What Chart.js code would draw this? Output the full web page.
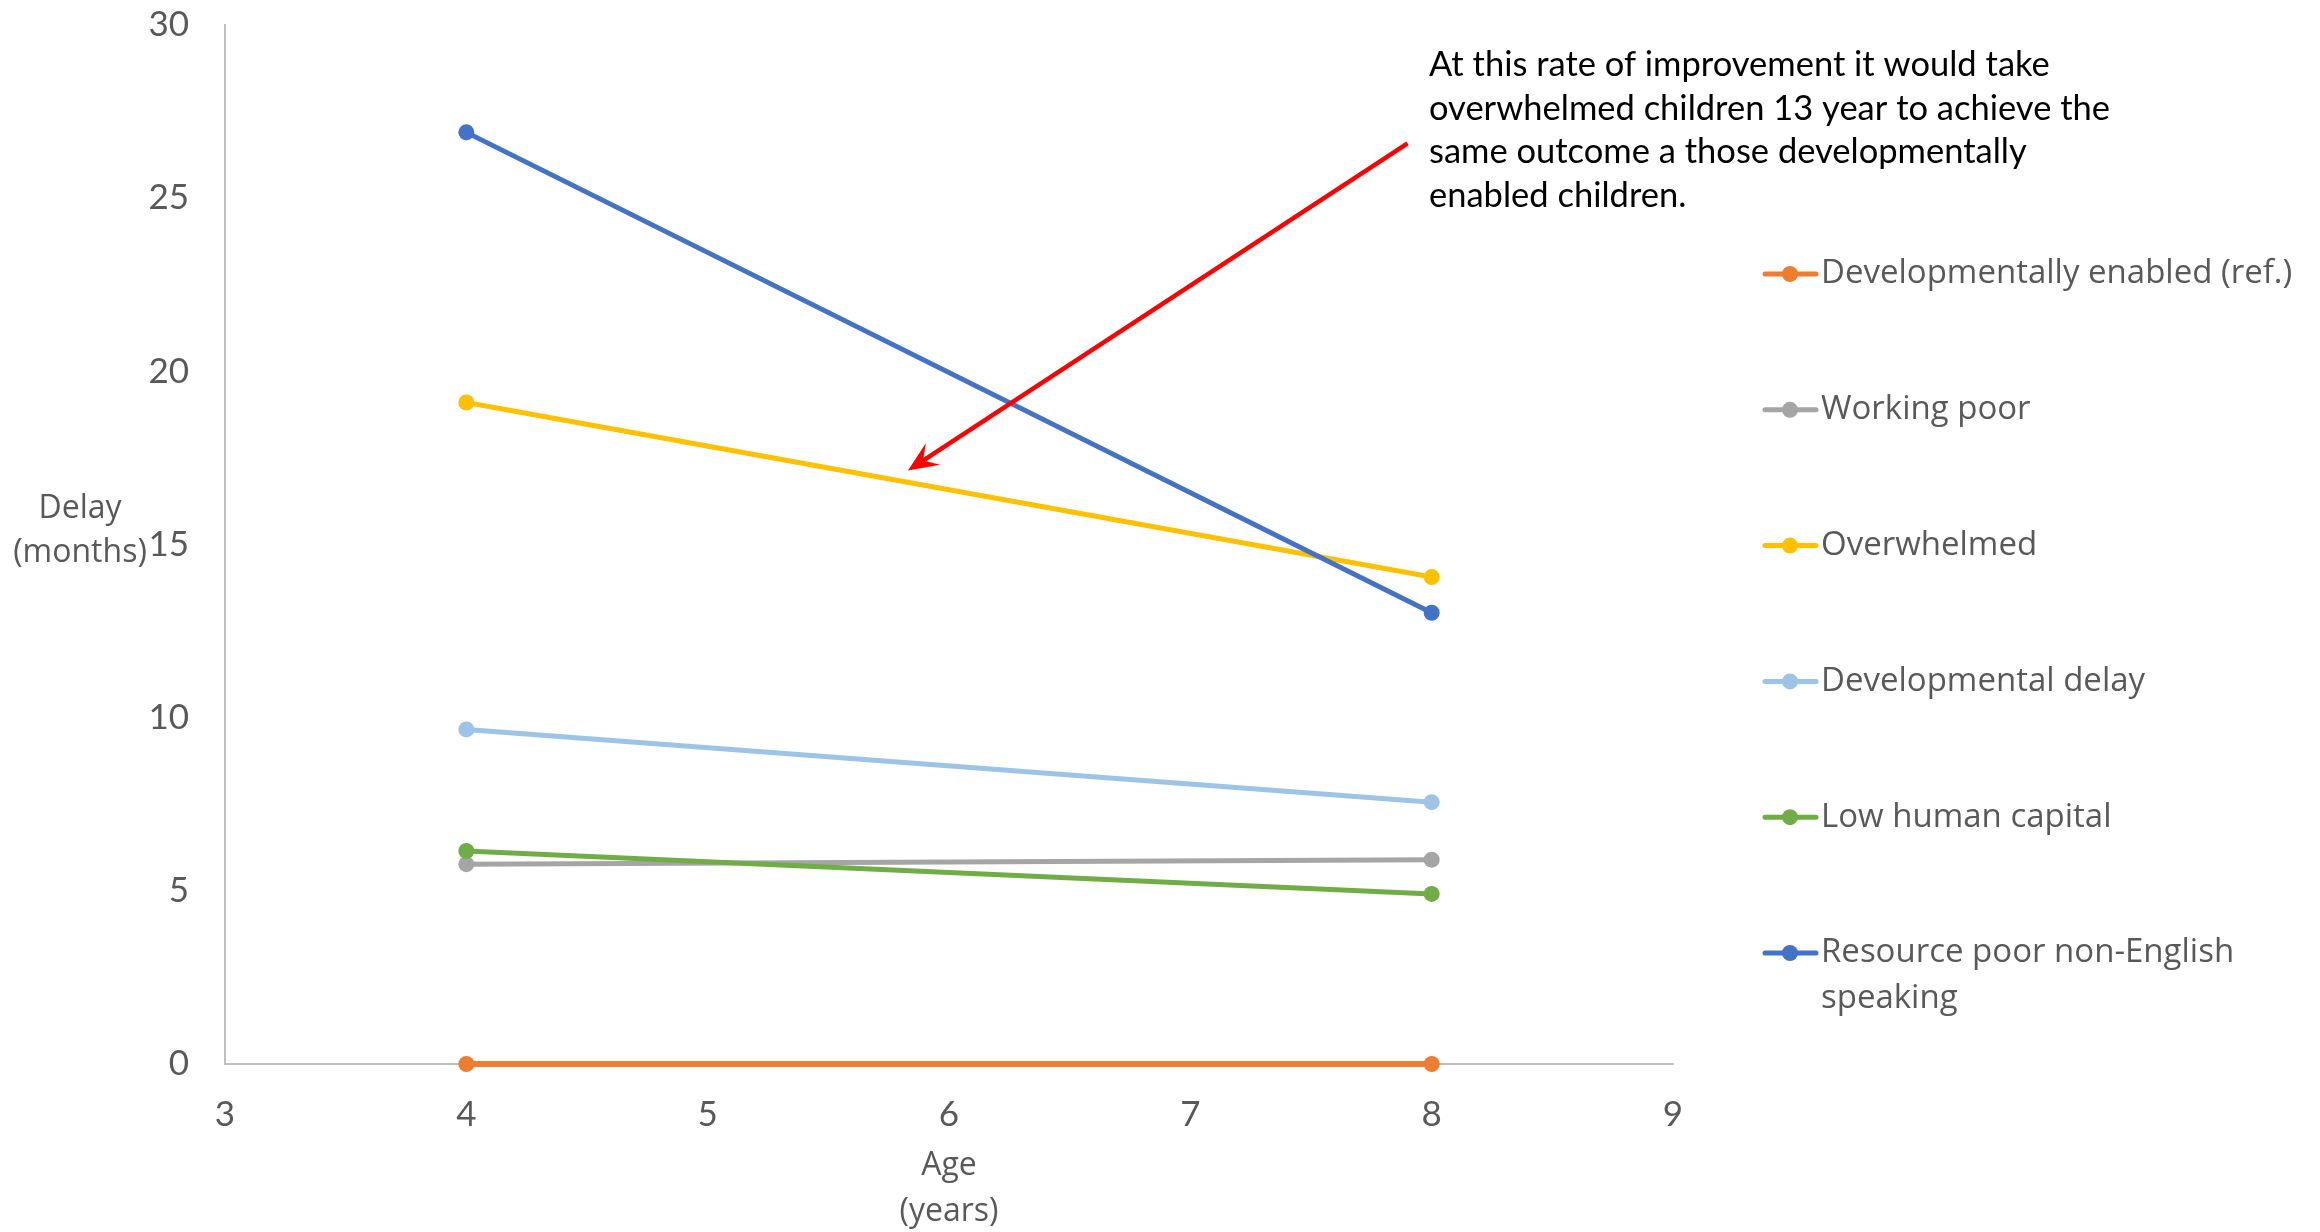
<!DOCTYPE html>
<html>
<head>
<meta charset="utf-8">
<script src="https://cdn.jsdelivr.net/npm/chart.js@4"></script>
<style>
  html, body { margin: 0; padding: 0; background: #fff; }
  #wrap { width: 2320px; height: 1232px; }
</style>
</head>
<body>
<div id="wrap"><canvas id="delayChart"></canvas></div>
<script>
// Age points (years)
const ages = [4, 8];

// Delay in months per group
const seriesNames = [
	'Developmentally enabled (ref.)',
	'Working poor',
	'Overwhelmed',
	'Developmental delay',
	'Low human capital',
	'Resource poor non-English speaking'
];
const enabledRef = [0, 0];
const workingPoor = [5.77, 5.9];
const overwhelmed = [19.1, 14.06];
const devDelay = [9.66, 7.56];
const lowCapital = [6.15, 4.91];
const resourcePoor = [26.9, 13.03];

const seriesColors = ['#ED7D31', '#A5A5A5', '#FFC000', '#9DC3E6', '#70AD47', '#4472C4'];

// Axis ticks
const xTicks = [3, 4, 5, 6, 7, 8, 9];
const yTicks = [0, 5, 10, 15, 20, 25, 30];

// Annotation text and arrow (data coordinates: start -> tip)
const noteLines = [
	'At this rate of improvement it would take',
	'overwhelmed children 13 year to achieve the',
	'same outcome a those developmentally',
	'enabled children.'
];
const arrowFrom = [7.9, 26.58];
const arrowTo = [5.83, 17.14];

const allSeries = [enabledRef, workingPoor, overwhelmed, devDelay, lowCapital, resourcePoor];

const datasets = allSeries.map((vals, i) => ({
	label: seriesNames[i],
	data: ages.map((a, j) => ({ x: a, y: vals[j] })),
	borderColor: seriesColors[i],
	backgroundColor: seriesColors[i],
	borderWidth: i === 0 ? 6 : 5,
	pointRadius: 8,
	pointHoverRadius: 8,
	pointBorderWidth: 0,
	tension: 0,
	clip: false,
	order: -i
}));

const textGray = '#595959';
const sansFont = '"Open Sans", "Noto Sans", sans-serif';

// axis titles, annotation, arrow and right-hand legend
const extras = {
	id: 'extras',
	afterDraw(chart) {
		const ctx = chart.ctx;
		const xs = chart.scales.x, ys = chart.scales.y;
		ctx.save();

		// axis titles (horizontal, two lines)
		ctx.fillStyle = textGray;
		ctx.font = '32px ' + sansFont;
		ctx.textAlign = 'center';
		ctx.textBaseline = 'middle';
		ctx.fillText('Delay', 80, 509);
		ctx.fillText('(months)', 80, 553);
		ctx.fillText('Age', xs.getPixelForValue(6), 1166);
		ctx.fillText('(years)', xs.getPixelForValue(6), 1212);

		// annotation
		ctx.fillStyle = '#000';
		ctx.font = '34.5px Lato, "Noto Sans", sans-serif';
		ctx.textAlign = 'left';
		noteLines.forEach((t, i) => ctx.fillText(t, 1429, 65 + i * 43.5));

		// red arrow
		const x1 = xs.getPixelForValue(arrowFrom[0]), y1 = ys.getPixelForValue(arrowFrom[1]);
		const x2 = xs.getPixelForValue(arrowTo[0]), y2 = ys.getPixelForValue(arrowTo[1]);
		const ang = Math.atan2(y2 - y1, x2 - x1);
		const headLen = 30, headW = 13;
		ctx.strokeStyle = '#FF0000';
		ctx.fillStyle = '#FF0000';
		ctx.lineWidth = 4.5;
		ctx.beginPath();
		ctx.moveTo(x1, y1);
		ctx.lineTo(x2 - Math.cos(ang) * headLen * 0.6, y2 - Math.sin(ang) * headLen * 0.6);
		ctx.stroke();
		ctx.beginPath();
		ctx.moveTo(x2, y2);
		ctx.lineTo(x2 - Math.cos(ang) * headLen + Math.sin(ang) * headW,
			y2 - Math.sin(ang) * headLen - Math.cos(ang) * headW);
		ctx.lineTo(x2 - Math.cos(ang) * headLen * 0.6, y2 - Math.sin(ang) * headLen * 0.6);
		ctx.lineTo(x2 - Math.cos(ang) * headLen - Math.sin(ang) * headW,
			y2 - Math.sin(ang) * headLen + Math.cos(ang) * headW);
		ctx.closePath();
		ctx.fill();

		// legend
		ctx.font = '33px ' + sansFont;
		ctx.textBaseline = 'middle';
		const maxW = 480;
		chart.data.datasets.forEach((ds, i) => {
			const y = 274 + i * 135.8;
			ctx.strokeStyle = ds.borderColor;
			ctx.fillStyle = ds.borderColor;
			ctx.lineWidth = 5;
			ctx.lineCap = 'round';
			ctx.beginPath();
			ctx.moveTo(1765, y);
			ctx.lineTo(1816, y);
			ctx.stroke();
			ctx.beginPath();
			ctx.arc(1790, y, 8, 0, Math.PI * 2);
			ctx.fill();

			// simple word wrap
			const words = ds.label.split(' ');
			const lines = [];
			let cur = '';
			words.forEach(w => {
				const test = cur ? cur + ' ' + w : w;
				if (ctx.measureText(test).width > maxW && cur) {
					lines.push(cur);
					cur = w;
				} else {
					cur = test;
				}
			});
			lines.push(cur);
			ctx.fillStyle = textGray;
			lines.forEach((l, k) => ctx.fillText(l, 1821, y + k * 46));
		});

		ctx.restore();
	}
};

new Chart(document.getElementById('delayChart'), {
	type: 'line',
	data: { datasets: datasets },
	options: {
		responsive: true,
		maintainAspectRatio: false,
		animation: false,
		events: [],
		layout: { padding: { top: 25, right: 647, left: 0, bottom: 0 } },
		plugins: {
			legend: { display: false },
			tooltip: { enabled: false }
		},
		scales: {
			x: {
				type: 'linear',
				min: 3,
				max: 9,
				afterBuildTicks: s => { s.ticks = xTicks.map(v => ({ value: v })); },
				afterFit: s => { s.height = 168; s.paddingLeft = 0; s.paddingRight = 0; },
				grid: { display: false, drawTicks: false },
				border: { display: true, color: '#BFBFBF', width: 2 },
				ticks: {
					color: textGray,
					padding: 30,
					font: { family: 'Lato, "Noto Sans", sans-serif', size: 35 }
				}
			},
			y: {
				min: 0,
				max: 30,
				afterBuildTicks: s => { s.ticks = yTicks.map(v => ({ value: v })); },
				afterFit: s => { s.width = 225; s.paddingTop = 0; s.paddingBottom = 0; },
				grid: { display: false, drawTicks: false },
				border: { display: true, color: '#BFBFBF', width: 2 },
				ticks: {
					color: textGray,
					padding: 36,
					font: { family: 'Lato, "Noto Sans", sans-serif', size: 35 }
				}
			}
		}
	},
	plugins: [extras]
});
</script>
</body>
</html>
